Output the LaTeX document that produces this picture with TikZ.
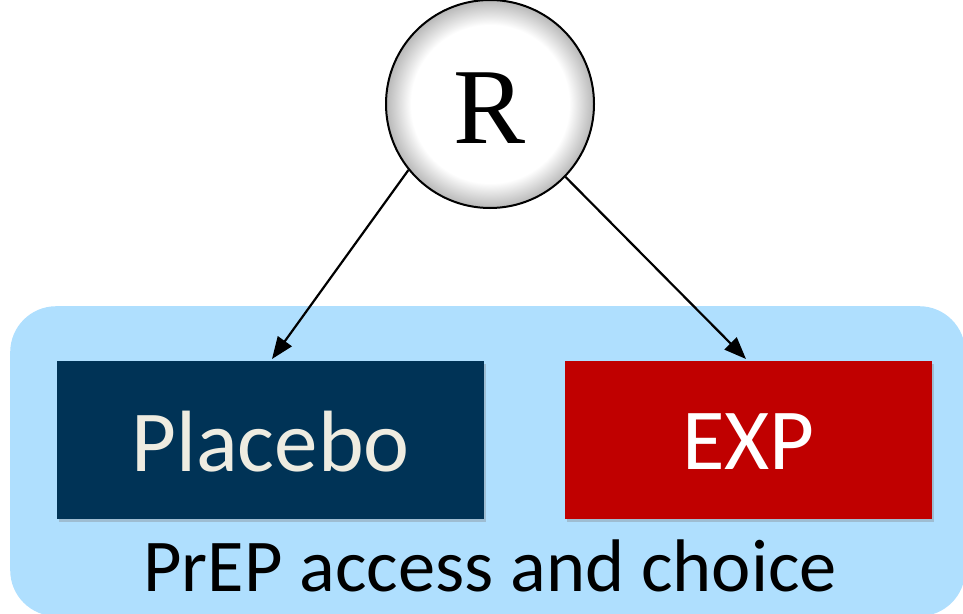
\documentclass[tikz,border=0pt]{standalone}
\usepackage{fontspec}
\setmainfont{Carlito}
\newfontfamily\serifR{Liberation Serif}
\usetikzlibrary{shadows,arrows.meta}
\definecolor{regionblue}{RGB}{175,223,254}
\definecolor{placebonavy}{RGB}{0,51,86}
\definecolor{expred}{RGB}{192,0,0}
\definecolor{placebotext}{RGB}{238,236,225}
\pgfdeclareradialshading{ballR}{\pgfpoint{0bp}{0bp}}{color(0bp)=(white); color(19bp)=(white); color(25bp)=(black!28); color(50bp)=(black!28)}
\tikzset{
  armbox/.style={minimum width=#1, minimum height=158pt, inner sep=0pt, anchor=north west,
    drop shadow={shadow xshift=2pt, shadow yshift=-3pt, opacity=0.35}},
  link/.style={line width=2.2pt, -{Triangle[length=22pt,width=17pt]}},
}
\begin{document}
\begin{tikzpicture}[x=1pt,y=-1pt]
\useasboundingbox (0,0) rectangle (963,613);
\node[fill=regionblue, rounded corners=46pt, minimum width=955pt, minimum height=310pt, anchor=north west, inner sep=0pt] (region) at (10,306) {};
\node[armbox=427pt, fill=placebonavy] (placebo) at (57,361) {};
\node[text=placebotext, font=\fontsize{87}{87}\selectfont] (placebolabel) at (270.5,442) {Placebo};
\node[armbox=367pt, fill=expred] (exp) at (565,361) {};
\node[text=white, font=\fontsize{87}{87}\selectfont] (explabel) at (748.5,442) {EXP};
\node[font=\fontsize{74.5}{74.5}\selectfont] (access) at (490,566) {PrEP access and choice};
\node[circle, draw=black, line width=2pt, minimum size=208pt, inner sep=0pt,
  shading=ballR] (R) at (490,104) {};
\node[font=\serifR\fontsize{108}{108}\selectfont] (Rlabel) at (490,108) {R};
\coordinate (pt) at (272,359);
\coordinate (et) at (746,359);
\draw[link] (R.-141) -- (pt);
\draw[link] (R.-44) -- (et);
\end{tikzpicture}
\end{document}
